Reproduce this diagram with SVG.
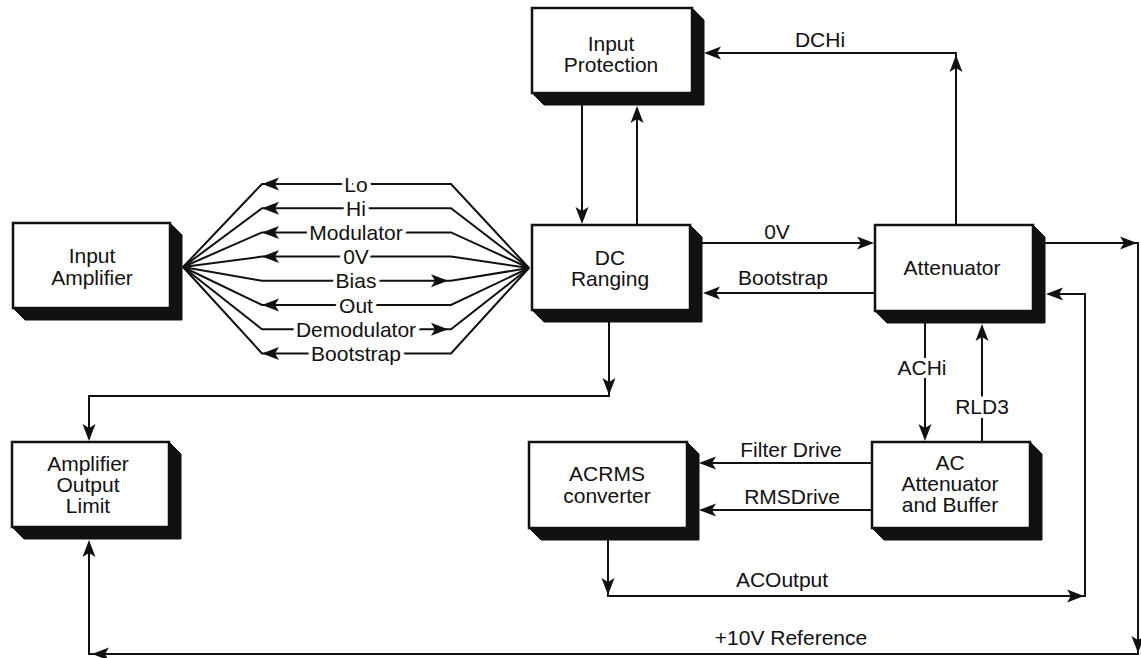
<svg xmlns="http://www.w3.org/2000/svg" xmlns:xlink="http://www.w3.org/1999/xlink" width="1141" height="658" viewBox="0 0 1141 658">
<style>
  .box { fill: #fff; stroke: #111; stroke-width: 2.5; }
  .shadow { fill: #111; stroke: #111; stroke-width: 1; stroke-linejoin: round; }
  .t { font-family: "Liberation Sans", Arial, Helvetica, sans-serif; font-size: 21px; fill: #111; text-anchor: middle; }
  .halo { paint-order: stroke; stroke: #fff; stroke-width: 8; stroke-linejoin: round; }
  .wire { fill: none; stroke: #111; stroke-width: 2; stroke-linejoin: miter; }
  .ah { fill: #111; }
</style>
<defs>
  <path id="ah" class="ah" d="M0,0 L-17,-6.5 L-13,0 L-17,6.5 Z"/>
</defs>
<rect width="1141" height="658" fill="#fff"/>

<!-- connectors -->
<g id="connectors">
  <!-- fan between Input Amplifier and DC Ranging -->
  <g id="fan">
    <polyline class="wire" points="183,267 262,184 451,184 529,268"/>
    <polyline class="wire" points="183,267 262,208.2 451,208.2 529,268"/>
    <polyline class="wire" points="183,267 262,232.4 451,232.4 529,268"/>
    <polyline class="wire" points="183,267 262,256.6 451,256.6 529,268"/>
    <polyline class="wire" points="183,267 262,280.8 451,280.8 529,268"/>
    <polyline class="wire" points="183,267 262,305 451,305 529,268"/>
    <polyline class="wire" points="183,267 262,329.2 451,329.2 529,268"/>
    <polyline class="wire" points="183,267 262,353.4 451,353.4 529,268"/>
    <use xlink:href="#ah" href="#ah" transform="translate(262,184) rotate(180)"/>
    <use xlink:href="#ah" href="#ah" transform="translate(262,208.2) rotate(180)"/>
    <use xlink:href="#ah" href="#ah" transform="translate(262,232.4) rotate(180)"/>
    <use xlink:href="#ah" href="#ah" transform="translate(262,256.6) rotate(180)"/>
    <use xlink:href="#ah" href="#ah" transform="translate(448,280.8)"/>
    <use xlink:href="#ah" href="#ah" transform="translate(262,305) rotate(180)"/>
    <use xlink:href="#ah" href="#ah" transform="translate(448,329.2)"/>
    <use xlink:href="#ah" href="#ah" transform="translate(262,353.4) rotate(180)"/>
    <text class="t halo" x="356" y="191.5">Lo</text>
    <text class="t halo" x="356" y="215.7">Hi</text>
    <text class="t halo" x="356" y="239.9">Modulator</text>
    <text class="t halo" x="356" y="264.1">0V</text>
    <text class="t halo" x="356" y="288.3">Bias</text>
    <text class="t halo" x="356" y="312.5">Out</text>
    <text class="t halo" x="356" y="336.7">Demodulator</text>
    <text class="t halo" x="356" y="360.9">Bootstrap</text>
  </g>

  <!-- Input Protection <-> DC Ranging -->
  <line class="wire" x1="582" y1="105" x2="582" y2="222"/>
  <use xlink:href="#ah" href="#ah" transform="translate(582,224) rotate(90)"/>
  <line class="wire" x1="637" y1="225" x2="637" y2="108"/>
  <use xlink:href="#ah" href="#ah" transform="translate(637,106) rotate(-90)"/>

  <!-- DCHi -->
  <polyline class="wire" points="956,225 956,53 706,53"/>
  <use xlink:href="#ah" href="#ah" transform="translate(956,55) rotate(-90)"/>
  <use xlink:href="#ah" href="#ah" transform="translate(704,53) rotate(180)"/>
  <text class="t" x="820" y="47">DCHi</text>

  <!-- 0V and Bootstrap between DC Ranging and Attenuator -->
  <line class="wire" x1="702" y1="243" x2="872" y2="243"/>
  <use xlink:href="#ah" href="#ah" transform="translate(874,243)"/>
  <text class="t" x="777" y="239">0V</text>
  <line class="wire" x1="875" y1="293" x2="705" y2="293"/>
  <use xlink:href="#ah" href="#ah" transform="translate(703,293) rotate(180)"/>
  <text class="t" x="783" y="285">Bootstrap</text>

  <!-- DC Ranging -> Amplifier Output Limit -->
  <polyline class="wire" points="609,322 609,396 89,396 89,439"/>
  <use xlink:href="#ah" href="#ah" transform="translate(609,395) rotate(90)"/>
  <use xlink:href="#ah" href="#ah" transform="translate(89,441) rotate(90)"/>

  <!-- Attenuator out / +10V Reference -->
  <polyline class="wire" points="1045,243 1138,243 1138,654 89,654 89,542"/>
  <use xlink:href="#ah" href="#ah" transform="translate(1137,243)"/>
  <use xlink:href="#ah" href="#ah" transform="translate(1138,653) rotate(90)"/>
  <use xlink:href="#ah" href="#ah" transform="translate(92,654) rotate(180)"/>
  <use xlink:href="#ah" href="#ah" transform="translate(89,540) rotate(-90)"/>
  <text class="t" x="791" y="645">+10V Reference</text>

  <!-- ACHi and RLD3 -->
  <line class="wire" x1="925" y1="323" x2="925" y2="438"/>
  <use xlink:href="#ah" href="#ah" transform="translate(925,441) rotate(90)"/>
  <text class="t halo" x="922" y="375">ACHi</text>
  <line class="wire" x1="982" y1="442" x2="982" y2="326"/>
  <use xlink:href="#ah" href="#ah" transform="translate(982,324) rotate(-90)"/>
  <text class="t halo" x="982" y="414">RLD3</text>

  <!-- Filter Drive / RMSDrive -->
  <line class="wire" x1="872" y1="463" x2="701" y2="463"/>
  <use xlink:href="#ah" href="#ah" transform="translate(699,463) rotate(180)"/>
  <text class="t" x="791" y="457">Filter Drive</text>
  <line class="wire" x1="872" y1="510" x2="701" y2="510"/>
  <use xlink:href="#ah" href="#ah" transform="translate(699,510) rotate(180)"/>
  <text class="t" x="792" y="504">RMSDrive</text>

  <!-- ACOutput loop back to Attenuator -->
  <polyline class="wire" points="608,540 608,596 1085,596 1085,294 1048,294"/>
  <use xlink:href="#ah" href="#ah" transform="translate(608,595) rotate(90)"/>
  <use xlink:href="#ah" href="#ah" transform="translate(1084,596)"/>
  <use xlink:href="#ah" href="#ah" transform="translate(1046,294) rotate(180)"/>
  <text class="t" x="782" y="587">ACOutput</text>
</g>

<!-- nodes -->
<g id="input-protection">
  <polygon class="shadow" points="692,8 704,20 704,105 544,105 532,93 692,93"/>
  <rect class="box" x="532" y="8" width="160" height="85"/>
  <text class="t" x="611" y="51">Input</text>
  <text class="t" x="611" y="72">Protection</text>
</g>

<g id="input-amplifier">
  <polygon class="shadow" points="170,223 182,235 182,320 25,320 13,308 170,308"/>
  <rect class="box" x="13" y="223" width="157" height="85"/>
  <text class="t" x="92" y="263">Input</text>
  <text class="t" x="92" y="285">Amplifier</text>
</g>

<g id="dc-ranging">
  <polygon class="shadow" points="690,225 702,237 702,322 544,322 532,310 690,310"/>
  <rect class="box" x="532" y="225" width="158" height="85"/>
  <text class="t" x="610" y="265">DC</text>
  <text class="t" x="610" y="286">Ranging</text>
</g>

<g id="attenuator">
  <polygon class="shadow" points="1033,225 1045,237 1045,323 887,323 875,311 1033,311"/>
  <rect class="box" x="875" y="225" width="158" height="86"/>
  <text class="t" x="952" y="275">Attenuator</text>
</g>

<g id="amplifier-output-limit">
  <polygon class="shadow" points="169,442 181,454 181,539 24,539 12,527 169,527"/>
  <rect class="box" x="12" y="442" width="157" height="85"/>
  <text class="t" x="88" y="471">Amplifier</text>
  <text class="t" x="88" y="492">Output</text>
  <text class="t" x="88" y="513">Limit</text>
</g>

<g id="acrms-converter">
  <polygon class="shadow" points="687,442 699,454 699,540 541,540 529,528 687,528"/>
  <rect class="box" x="529" y="442" width="158" height="86"/>
  <text class="t" x="607" y="481">ACRMS</text>
  <text class="t" x="607" y="503">converter</text>
</g>

<g id="ac-attenuator-buffer">
  <polygon class="shadow" points="1030,442 1042,454 1042,540 884,540 872,528 1030,528"/>
  <rect class="box" x="872" y="442" width="158" height="86"/>
  <text class="t" x="950" y="470">AC</text>
  <text class="t" x="950" y="491">Attenuator</text>
  <text class="t" x="950" y="512">and Buffer</text>
</g>
</svg>
